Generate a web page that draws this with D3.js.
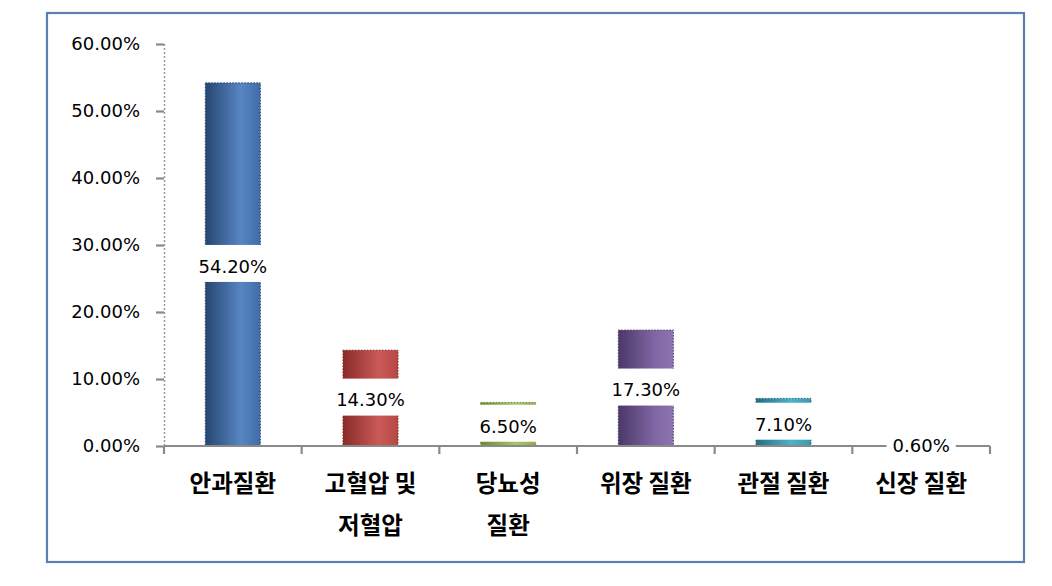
<!DOCTYPE html>
<html>
<head>
<meta charset="utf-8">
<script src="https://cdn.jsdelivr.net/npm/d3@7"></script>
<style>
  html, body { margin: 0; padding: 0; background: #ffffff; }
  svg { display: block; }
</style>
</head>
<body>
<svg id="chart" width="1052" height="586"></svg>
<script>
// ---- data ----
const categories = ["안과질환", "고혈압 및\n저혈압", "당뇨성\n질환", "위장 질환", "관절 질환", "신장 질환"];
const values = [54.2, 14.3, 6.5, 17.3, 7.1, 0.6];
const yTicks = [0, 10, 20, 30, 40, 50, 60];
const barColors = [
  ["#264670", "#5786c3", "#3f6ca5"],
  ["#8a2b29", "#c95a57", "#b54845"],
  ["#6e8a33", "#a9c46a", "#8fab4c"],
  ["#4a3867", "#7f66a4", "#8e74b0"],
  ["#22707f", "#4db3cb", "#3a98ad"],
  ["#b8641f", "#f7a05c", "#e48a3c"]
];

const svg = d3.select("#chart");
const x0 = 164, x1 = 990, yTop = 44, yBot = 446;

// outer border
svg.append("rect")
  .attr("x", 47).attr("y", 13).attr("width", 977).attr("height", 549)
  .attr("fill", "#ffffff").attr("stroke", "#5a80b2").attr("stroke-width", 2.2);

const x = d3.scaleBand().domain(categories).range([x0, x1]).padding(0);
const y = d3.scaleLinear().domain([0, 60]).range([yBot, yTop]);

// gradients
const defs = svg.append("defs");
barColors.forEach((c, i) => {
  const g = defs.append("linearGradient").attr("id", "g" + i)
    .attr("x1", "0%").attr("x2", "100%").attr("y1", "0%").attr("y2", "0%");
  g.append("stop").attr("offset", "0%").attr("stop-color", c[0]);
  g.append("stop").attr("offset", "65%").attr("stop-color", c[1]);
  g.append("stop").attr("offset", "100%").attr("stop-color", c[2]);
});

// y axis
const yAxis = d3.axisLeft(y).tickValues(yTicks)
  .tickFormat(d => d.toFixed(2) + "%").tickSize(8).tickPadding(16);
const gy = svg.append("g").attr("transform", `translate(${x0},0)`).call(yAxis);
gy.select(".domain").attr("stroke", "#9a9a9a").attr("stroke-width", 1.5)
  .attr("stroke-dasharray", "2,2").attr("d", `M0.5,${yTop}V${yBot}`);
gy.selectAll(".tick line").attr("stroke", "#8a8a8a").attr("stroke-width", 2.2);
gy.selectAll(".tick text").attr("fill", "#000").attr("font-family", "DejaVu Sans, Verdana, sans-serif")
  .attr("font-size", 18);

// bars
const barW = x.bandwidth() * 0.4;
svg.selectAll("rect.bar").data(values).enter().append("rect")
  .attr("class", "bar")
  .attr("x", (d, i) => x(categories[i]) + (x.bandwidth() - barW) / 2)
  .attr("width", barW)
  .attr("y", d => y(d))
  .attr("height", d => yBot - y(d))
  .attr("fill", (d, i) => `url(#g${i})`)
  .attr("stroke", (d, i) => barColors[i][0])
  .attr("stroke-width", 1)
  .attr("stroke-dasharray", "1.5,1.5");

// x axis
const xAxis = d3.axisBottom(x).tickSize(0).tickFormat("");
const gx = svg.append("g").attr("transform", `translate(0,${yBot})`).call(xAxis);
gx.select(".domain").attr("stroke", "#8a8a8a").attr("stroke-width", 2).attr("d", `M${x0},0H${x1}`);
const bounds = categories.map(c => x(c)).concat([x.range()[1]]);
gx.selectAll("line.bt").data(bounds).enter().append("line")
  .attr("class", "bt")
  .attr("x1", d => d).attr("x2", d => d).attr("y1", 0).attr("y2", 8)
  .attr("stroke", "#8a8a8a").attr("stroke-width", 2.2);

// x category labels
const xl = svg.append("g");
categories.forEach((c, i) => {
  const lines = c.split("\n");
  const t = xl.append("text")
    .attr("x", x(c) + x.bandwidth() / 2)
    .attr("y", 492)
    .attr("text-anchor", "middle")
    .attr("font-family", "'Noto Sans CJK KR', sans-serif")
    .attr("font-weight", "bold")
    .attr("font-size", 23.5)
    .attr("fill", "#000");
  lines.forEach((ln, j) => {
    t.append("tspan").attr("x", x(c) + x.bandwidth() / 2).attr("y", 492 + j * 42).text(ln);
  });
});

// data labels with white background
const lg = svg.append("g");
values.forEach((v, i) => {
  const cx = x(categories[i]) + x.bandwidth() / 2;
  const cy = (y(v) + yBot) / 2;
  const g = lg.append("g");
  const bg = g.append("rect").attr("fill", "#ffffff");
  const t = g.append("text")
    .attr("x", cx).attr("y", cy + 2)
    .attr("dy", "0.35em")
    .attr("text-anchor", "middle")
    .attr("font-family", "DejaVu Sans, Verdana, sans-serif")
    .attr("font-size", 18)
    .attr("fill", "#000")
    .text(v.toFixed(2) + "%");
  const bb = t.node().getBBox();
  const bw = Math.max(bb.width + 12, barW + 4);
  bg.attr("x", cx - bw / 2).attr("width", bw)
    .attr("y", cy - 1 - 18.5).attr("height", 37);
});
</script>
</body>
</html>
